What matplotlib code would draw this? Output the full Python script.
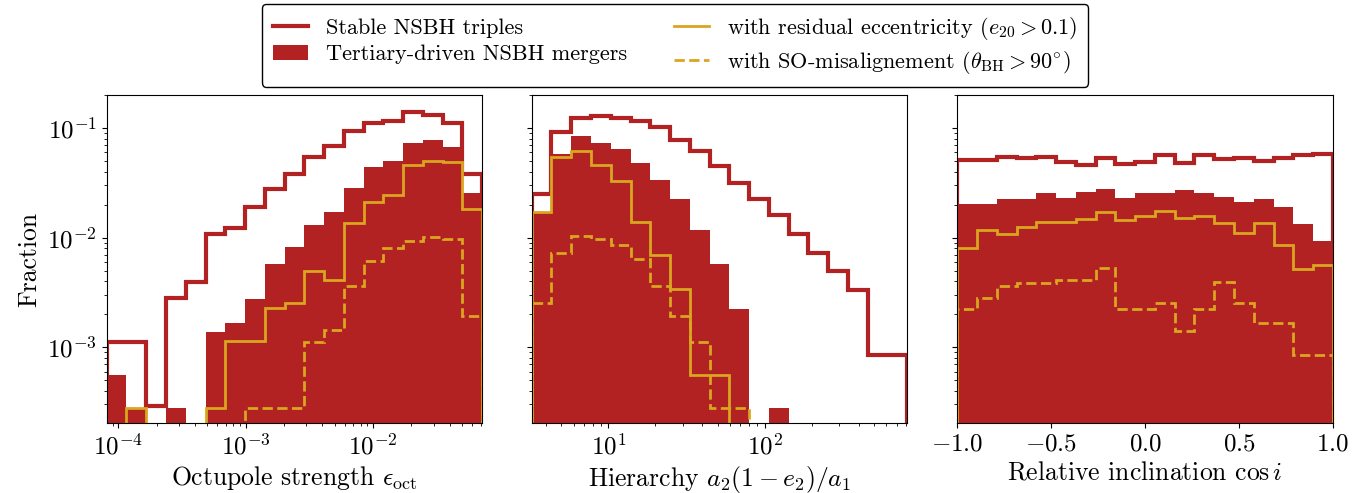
import numpy as np
import matplotlib
matplotlib.use("Agg")
import matplotlib.pyplot as plt

plt.rcParams['font.family'] = 'serif'
plt.rcParams['font.serif'] = ['cmr10', 'DejaVu Serif']
plt.rcParams['mathtext.fontset'] = 'cm'
plt.rcParams['axes.formatter.use_mathtext'] = True
plt.rcParams['axes.unicode_minus'] = True

RED = '#b22222'
GOLD = '#daa520'

# ---- data: bin ranges and per-bin fractions ----
oct_range = (8.1e-5, 0.072)
stable_oct = [1.11e-3, 1.11e-3, 2.92e-4, 2.8e-3, 3.9e-3, 1.08e-2, 1.23e-2, 1.91e-2, 2.77e-2,
              3.79e-2, 5.47e-2, 6.92e-2, 9.46e-2, 0.1125, 0.117, 0.1395, 0.132, 0.111, 3.84e-2]
merge_oct = [5.55e-4, 2.8e-4, 0, 2.77e-4, 0, 1.38e-3, 1.66e-3, 2.74e-3, 5.79e-3,
             8.3e-3, 1.31e-2, 1.70e-2, 2.87e-2, 4.41e-2, 4.99e-2, 7.31e-2, 7.73e-2, 6.68e-2, 2.58e-2]
ecc_oct = [0, 2.8e-4, 0, 0, 0, 2.8e-4, 1.13e-3, 1.13e-3, 2.27e-3,
           2.52e-3, 4.98e-3, 4.15e-3, 1.35e-2, 2.12e-2, 2.46e-2, 4.59e-2, 4.99e-2, 4.89e-2, 1.82e-2]
so_oct = [0, 0, 0, 0, 0, 0, 0, 2.8e-4, 2.8e-4,
          2.8e-4, 1.11e-3, 1.43e-3, 3.61e-3, 6.08e-3, 8.09e-3, 9.29e-3, 1.01e-2, 9.76e-3, 1.94e-3]

hier_range = (3.23, 818.0)
stable_hier = [2.49e-2, 9.14e-2, 0.125, 0.129, 0.125, 0.1165, 0.1035, 7.84e-2, 6.15e-2,
               4.50e-2, 3.18e-2, 2.25e-2, 1.62e-2, 1.08e-2, 7.24e-3, 4.98e-3, 3.33e-3, 8.47e-4, 8.47e-4]
merge_hier = [1.70e-2, 5.82e-2, 8.41e-2, 7.31e-2, 6.50e-2, 4.82e-2, 3.40e-2, 2.25e-2, 1.18e-2,
              5.79e-3, 2.22e-3, 0, 2.77e-4, 0, 0, 0, 0, 0, 0]
ecc_hier = [1.70e-2, 5.43e-2, 6.24e-2, 4.66e-2, 3.29e-2, 1.38e-2, 7.0e-3, 3.37e-3, 5.59e-4,
            5.59e-4, 0, 0, 0, 0, 0, 0, 0, 0, 0]
so_hier = [2.52e-3, 7.24e-3, 1.03e-2, 9.76e-3, 8.67e-3, 6.43e-3, 3.61e-3, 1.94e-3, 1.12e-3,
           2.8e-4, 2.8e-4, 0, 0, 0, 0, 0, 0, 0, 0]

inc_range = (-1.0, 1.0)
stable_inc = [5.17e-2, 5.17e-2, 5.43e-2, 5.37e-2, 5.47e-2, 4.92e-2, 4.59e-2, 5.37e-2, 4.75e-2,
              4.92e-2, 5.74e-2, 4.82e-2, 5.66e-2, 5.24e-2, 5.37e-2, 4.99e-2, 5.37e-2, 5.74e-2, 5.82e-2]
merge_inc = [2.02e-2, 2.05e-2, 2.25e-2, 2.25e-2, 2.55e-2, 2.29e-2, 2.62e-2, 2.77e-2, 2.29e-2,
             2.55e-2, 2.55e-2, 2.71e-2, 2.55e-2, 2.36e-2, 2.12e-2, 2.25e-2, 1.89e-2, 1.33e-2, 9.29e-3]
ecc_inc = [8.09e-3, 1.18e-2, 1.08e-2, 1.24e-2, 1.40e-2, 1.40e-2, 1.48e-2, 1.70e-2, 1.45e-2,
           1.59e-2, 1.74e-2, 1.51e-2, 1.59e-2, 1.35e-2, 1.10e-2, 1.36e-2, 8.61e-3, 5.22e-3, 5.60e-3]
so_inc = [2.22e-3, 2.80e-3, 3.61e-3, 3.87e-3, 3.87e-3, 4.15e-3, 4.15e-3, 5.33e-3, 2.22e-3,
          2.22e-3, 2.55e-3, 1.40e-3, 2.22e-3, 3.9e-3, 2.52e-3, 1.68e-3, 1.68e-3, 8.41e-4, 8.41e-4]

xlabels = [r'Octupole strength $\epsilon_{\rm oct}$',
           r'Hierarchy $a_2(1-e_2)/a_1$',
           r'Relative inclination $\cos i$']
legend_labels = ['Stable NSBH triples', 'Tertiary-driven NSBH mergers',
                 r'with residual eccentricity ($e_{20} > 0.1$)',
                 r'with SO-misalignement ($\theta_{\rm BH} > 90^{\circ}$)']

nbins = 19
edges_list = [np.logspace(np.log10(oct_range[0]), np.log10(oct_range[1]), nbins + 1),
              np.logspace(np.log10(hier_range[0]), np.log10(hier_range[1]), nbins + 1),
              np.linspace(inc_range[0], inc_range[1], nbins + 1)]
datasets = [(stable_oct, merge_oct, ecc_oct, so_oct),
            (stable_hier, merge_hier, ecc_hier, so_hier),
            (stable_inc, merge_inc, ecc_inc, so_inc)]
logx = [True, True, False]

fig = plt.figure(figsize=(13.66, 4.93), dpi=100)
lefts = [106.7 / 1366, 531.7 / 1366, 957.3 / 1366]
w = 375.5 / 1366
b = 1 - 423.3 / 493
h = (423.3 - 95) / 493

handles = None
for i in range(3):
    ax = fig.add_axes([lefts[i], b, w, h])
    edges = edges_list[i]
    st, mg, ec, so = [np.asarray(d, dtype=float) for d in datasets[i]]
    ax.set_yscale('log')
    if logx[i]:
        ax.set_xscale('log')
    h2 = ax.stairs(mg, edges, fill=True, color=RED, linewidth=0, label=legend_labels[1])
    h1 = ax.stairs(st, edges, fill=False, color=RED, linewidth=3.0, label=legend_labels[0])
    h3 = ax.stairs(ec, edges, fill=False, color=GOLD, linewidth=2.0, label=legend_labels[2])
    h4 = ax.stairs(so, edges, fill=False, color=GOLD, linewidth=2.0, linestyle='--',
                   label=legend_labels[3])
    ax.set_xlim(edges[0], edges[-1])
    ax.set_ylim(2.02e-4, 0.201)
    ax.set_xlabel(xlabels[i], fontsize=18.5, labelpad=4)
    ax.tick_params(axis='both', which='major', labelsize=18)
    if i == 0:
        ax.set_ylabel('Fraction', fontsize=18.5)
        handles = [h1, h2, h3, h4]
    else:
        ax.tick_params(axis='y', which='both', labelleft=False)
    if i == 2:
        ax.set_xticks([-1.0, -0.5, 0.0, 0.5, 1.0])

fig.legend(handles=handles, labels=legend_labels, loc='upper center',
           bbox_to_anchor=(675 / 1366, 1 - 4 / 493), borderaxespad=0, ncol=2, fontsize=16,
           frameon=True, fancybox=True, edgecolor='black', framealpha=1,
           handlelength=1.6, columnspacing=2.1, borderpad=0.5, labelspacing=0.3)

fig.savefig('out.png', dpi=100)
